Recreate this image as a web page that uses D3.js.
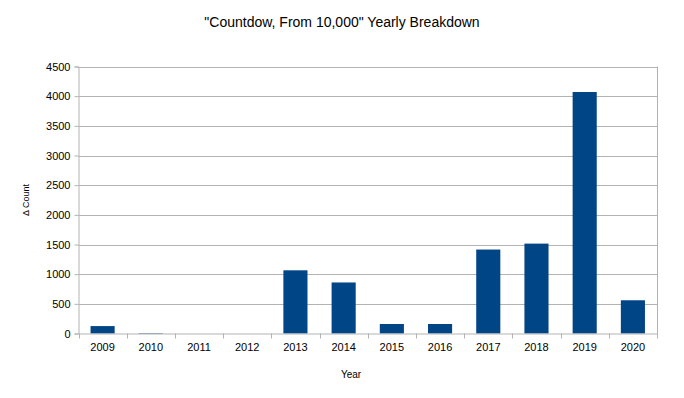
<!DOCTYPE html>
<html><head><meta charset="utf-8">
<script src="https://cdn.jsdelivr.net/npm/d3@7"></script>
<style>body{margin:0;background:#fff}svg{display:block}text{font-family:"Liberation Sans",Arial,sans-serif;fill:#000}</style>
</head><body>
<svg id="c" width="684" height="398"></svg>
<script>
const years = ["2009","2010","2011","2012","2013","2014","2015","2016","2017","2018","2019","2020"];
const counts = [125, 8, 0, 0, 1065, 860, 160, 160, 1415, 1515, 4070, 560];
const yTicks = [0,500,1000,1500,2000,2500,3000,3500,4000,4500];
const title = "\"Countdow, From 10,000\" Yearly Breakdown";
const xTitle = "Year";
const yTitle = "\u0394 Count";

const svg = d3.select("#c");
const L = 78.5, R = 657, T = 66.5, B = 333.5;
const x = d3.scaleBand().domain(years).range([L, R]).paddingInner(0).paddingOuter(0);
const y = d3.scaleLinear().domain([0, 4500]).range([B, T]);

svg.append("text").attr("x", 342).attr("y", 27).attr("text-anchor","middle").attr("font-size", 14).text(title);

// gridlines
svg.append("g").selectAll("line").data(yTicks.filter(d=>d>0)).join("line")
  .attr("x1", L).attr("x2", R).attr("y1", d=>Math.round(y(d))+0.5).attr("y2", d=>Math.round(y(d))+0.5)
  .attr("stroke", "#b3b3b3").attr("stroke-width", 1);
// right border
svg.append("line").attr("x1", R+0.5).attr("x2", R+0.5).attr("y1", T).attr("y2", B).attr("stroke","#b3b3b3");

// bars
const bw = x.bandwidth()*0.5;
svg.append("g").selectAll("rect").data(years).join("rect")
  .attr("x", (d)=>x(d)+x.bandwidth()/2 - bw/2)
  .attr("width", bw)
  .attr("y", (d,i)=>y(counts[i]))
  .attr("height", (d,i)=>B - y(counts[i]))
  .attr("fill", "#004586");

// y axis
const yAxis = d3.axisLeft(y).tickValues(yTicks).tickSize(4).tickPadding(4).tickFormat(d3.format("d"));
const gy = svg.append("g").attr("transform", `translate(${L},0)`).call(yAxis);
gy.select(".domain").attr("stroke","#b3b3b3");
gy.selectAll(".tick line").attr("stroke","#b3b3b3");
gy.selectAll(".tick text").attr("font-size", 11).attr("font-family","Liberation Sans, Arial, sans-serif");

// x axis
const xAxis = d3.axisBottom(x).tickSize(0).tickPadding(10);
const gx = svg.append("g").attr("transform", `translate(0,${B})`).call(xAxis);
gx.select(".domain").attr("stroke","#b3b3b3");
gx.selectAll(".tick text").attr("font-size", 11).attr("font-family","Liberation Sans, Arial, sans-serif");
// category boundary ticks
const bounds = years.map(d=>x(d)).concat([R]);
gx.append("g").selectAll("line").data(bounds).join("line")
  .attr("x1", d=>Math.round(d)+0.5).attr("x2", d=>Math.round(d)+0.5).attr("y1", 0).attr("y2", 5)
  .attr("stroke","#b3b3b3");

svg.append("text").attr("x", 351).attr("y", 378).attr("text-anchor","middle").attr("font-size", 10).text(xTitle);
svg.append("text").attr("transform","translate(29,200) rotate(-90)").attr("text-anchor","middle").attr("font-size", 9).text(yTitle);
</script>
</body></html>
